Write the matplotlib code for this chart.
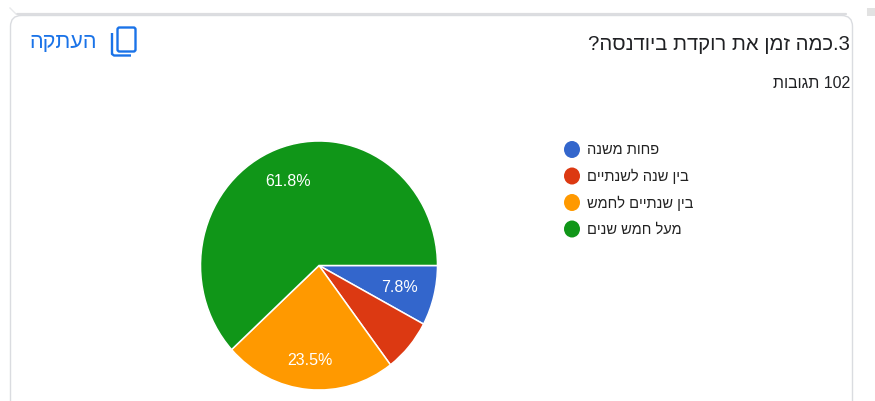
import matplotlib
matplotlib.use("Agg")
import matplotlib.pyplot as plt
from matplotlib.patches import FancyBboxPatch, Ellipse

W = 875
H = 401

# matplotlib has no bidi support, so hebrew strings get flipped before drawing
def heb(s):
    return s[::-1]

title = "3.כמה זמן את רוקדת ביודנסה?"
answers_word = "תגובות"
answers_count = "102"
copy_label = "העתקה"
categories = ["פחות משנה", "בין שנה לשנתיים", "בין שנתיים לחמש", "מעל חמש שנים"]
values = [7.8, 6.9, 23.5, 61.8]
shown_labels = ["7.8%", "", "23.5%", "61.8%"]
colors = ["#3366cc", "#dc3912", "#ff9900", "#109618"]

plt.rcParams["font.family"] = ["Liberation Sans", "DejaVu Sans"]

fig = plt.figure(figsize=(W / 100, H / 100), dpi=100, facecolor="white")

# overlay in pixel coordinates for the card, header and legend
bg = fig.add_axes([0, 0, 1, 1])
bg.set_xlim(0, W)
bg.set_ylim(H, 0)
bg.axis("off")

# grey strip left by the card above
bg.plot([17, 846], [14, 14], color="#dcdde0", lw=1.6, solid_capstyle="round")
bg.plot([10, 16], [8, 14], color="#e8e9eb", lw=1.0)

# card outline runs past the bottom edge
card = FancyBboxPatch((10.5, 15.5), 842, 420, boxstyle="round,pad=0,rounding_size=11",
                      fc="white", ec="#dadce0", lw=1.0)
bg.add_patch(card)

# scrollbar hint on the right
bg.plot([871, 871], [8, 16], color="#e2e2e2", lw=5.8, solid_capstyle="butt")

# copy icon
bg.add_patch(FancyBboxPatch((117.5, 27.5), 18, 24, boxstyle="round,pad=0,rounding_size=2",
                            fc="none", ec="#1a73e8", lw=1.7))
bg.plot([112, 112, 114, 131], [33, 54, 55.5, 55.5], color="#1a73e8", lw=1.7,
        solid_capstyle="butt", solid_joinstyle="round")

bg.text(97, 42, heb(copy_label), color="#1a73e8", fontsize=15.6, ha="right", va="center")
bg.text(850, 44, heb(title), color="#202124", fontsize=14.6, ha="right", va="center")
bg.text(850, 83, heb(answers_word) + " " + answers_count, color="#202124", fontsize=11.4,
        ha="right", va="center")

# legend
legend_y = [149.5, 176, 202.5, 229]
for name, col, y in zip(categories, colors, legend_y):
    bg.add_patch(Ellipse((572, y), 16, 17, fc=col, ec="none"))
    bg.text(587, y + 0.5, heb(name), color="#222222", fontsize=10.5, ha="left", va="center")

# pie, the axes box is a bit taller than wide so the circle comes out oval
cx, cy, rx, ry = 319, 265.5, 118.5, 124.5
ax = fig.add_axes([(cx - rx) / W, 1 - (cy + ry) / H, 2 * rx / W, 2 * ry / H])
wedges, _ = ax.pie(values, colors=colors, startangle=0, counterclock=False, radius=1,
                   wedgeprops=dict(edgecolor="white", linewidth=1.1))
ax.set_xlim(-1, 1)
ax.set_ylim(-1, 1)
ax.set_aspect("auto")
for w in wedges:
    w.set_clip_on(False)

# percent labels placed on the chart in pie units
label_pos = [(0.68, -0.175), None, (-0.075, -0.765), (-0.265, 0.675)]
for txt, pos in zip(shown_labels, label_pos):
    if pos is not None:
        ax.text(pos[0], pos[1], txt, color="white", fontsize=11.5, ha="center", va="center")

fig.savefig("out.png", dpi=100, facecolor="white")
